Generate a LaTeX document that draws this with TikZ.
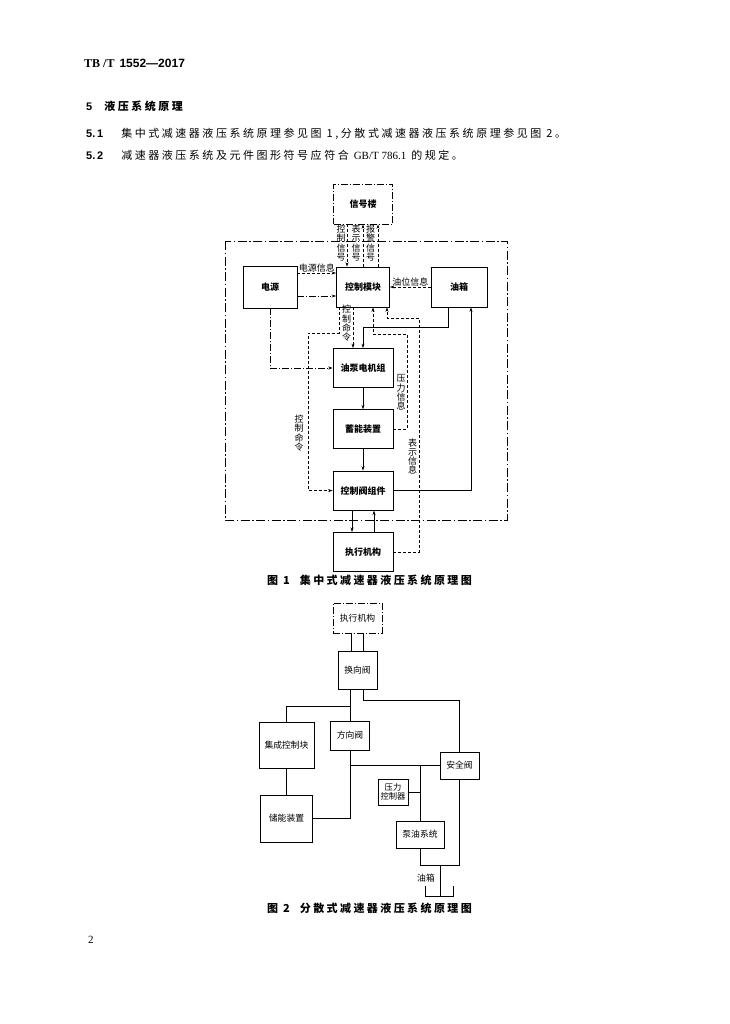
\documentclass[tikz,border=0pt]{standalone}
\usepackage{fontspec}
\setmainfont{Liberation Serif}
\setsansfont{Liberation Sans}
\newfontfamily\cjk{Noto Sans CJK SC}
\newfontfamily\cjkspaced{Noto Sans CJK SC}[LetterSpace=23]
\newfontfamily\cjkcap{Noto Sans CJK SC}[LetterSpace=22]
\usetikzlibrary{arrows.meta, positioning}

\begin{document}
\begin{tikzpicture}[x=1pt, y=-1pt,
    >={Stealth[length=4.5pt, width=3pt]},
    % Styles
    unit box/.style={draw, line width=0.8pt, inner sep=1pt, align=center, font=\cjk\bfseries\fontsize{9}{11}\selectfont},
    core box/.style={unit box, minimum width=60pt, minimum height=39pt},
    ext box/.style={unit box, dash pattern=on 7pt off 2pt on 1pt off 2pt, line width=0.7pt},
    plain box/.style={draw, line width=0.7pt, inner sep=0.5pt, align=center, font=\cjk\fontsize{8.8}{10}\selectfont},
    sig line/.style={line width=0.6pt, dash pattern=on 3pt off 2pt},
    power line/.style={line width=0.6pt, dash pattern=on 7pt off 2pt on 1pt off 2pt},
    frame line/.style={line width=0.6pt, dash pattern=on 9pt off 2.5pt on 1.5pt off 2.5pt},
    oil line/.style={line width=0.6pt},
    line label/.style={inner sep=0.5pt, font=\cjk\fontsize{9}{10}\selectfont},
    vert label/.style={inner sep=0pt, align=center, font=\cjk\fontsize{9}{9.3}\selectfont},
    caption/.style={anchor=west, inner sep=0pt, font=\cjkcap\bfseries\fontsize{11}{12}\selectfont},
    body text/.style={anchor=west, inner sep=0pt, font=\cjkspaced\fontsize{11}{13}\selectfont},
]
    \fill[white] (0,0) rectangle (729,1024);
    \useasboundingbox (0,0) rectangle (729,1024);

    % Page text
    \node[anchor=west, inner sep=0pt, font=\fontsize{12}{14}\selectfont] (std no) at (84,63) {\bfseries TB\hspace{3pt}/T\hspace{5pt}{\sffamily 1552—2017}};
    \node[anchor=west, inner sep=0pt, font=\fontsize{11}{13}\selectfont] (sec head) at (86,106) {\sffamily\bfseries 5\hspace{12pt}{\cjkspaced\bfseries 液压系统原理}};
    \node[body text] (item one) at (86,134) {{\sffamily\bfseries 5.\,1}\hspace{18pt}集中式减速器液压系统原理参见图 1,分散式减速器液压系统原理参见图 2。};
    \node[body text] (item two) at (86,155) {{\sffamily\bfseries 5.\,2}\hspace{18pt}减速器液压系统及元件图形符号应符合 {\rmfamily GB/T 786.1} 的规定。};

    % Figure 1 - boxes
    \node[ext box, minimum width=59pt, minimum height=40pt] (tower) at (363,204) {信号楼};
    \node[unit box, minimum width=54pt, minimum height=42pt] (power) at (270,287) {电源};
    \node[unit box, minimum width=53pt, minimum height=40pt] (ctrl) at (363,287) {控制模块};
    \node[unit box, minimum width=56pt, minimum height=40pt] (tank) at (459,287) {油箱};
    \node[core box] (pump) at (363,368) {油泵电机组};
    \node[core box, below=21.5pt of pump] (accu) {蓄能装置};
    \node[core box, below=21.5pt of accu] (valves) {控制阀组件};
    \node[core box, below=21.5pt of valves] (actor) {执行机构};

    % System frame
    \draw[frame line] (225,241) rectangle (507,520);

    % Signal tower lines
    \draw[sig line, ->] ([xshift=-16pt]tower.south) -- ([xshift=-16pt]ctrl.north);
    \draw[sig line, ->] (ctrl.north) -- (tower.south);
    \draw[sig line, ->] ([xshift=15pt]ctrl.north) -- ([xshift=15pt]tower.south);
    \node[vert label] (cmd sig) at (341,243) {控\\制\\信\\号};
    \node[vert label] (ind sig) at (356,243) {表\\示\\信\\号};
    \node[vert label] (alarm sig) at (370.5,243) {报\\警\\信\\号};

    % Power and level lines
    \draw[sig line, ->] ([yshift=14pt]power.east) -- ([yshift=14pt]ctrl.west) node[line label, midway, above] (power info) {电源信息};
    \draw[power line, ->] ([yshift=-9pt]power.east) -- ([yshift=-9pt]ctrl.west);
    \draw[sig line, ->] (tank.west) -- (ctrl.east) node[line label, midway, above] (level info) {油位信息};
    \draw[power line, ->] (power.south) |- (pump.west);

    % Control commands
    \draw[sig line, ->] ([xshift=-10pt]ctrl.south) -- ([xshift=-10pt]pump.north);
    \node[vert label] (cmd a) at (346.5,323.5) {控\\制\\命\\令};
    \coordinate (cmd bend) at (308,333);
    \draw[sig line, ->] ([xshift=-24pt]ctrl.south) |- (cmd bend) |- (valves.west);
    \node[vert label] (cmd b) at (299,433) {控\\制\\命\\令};

    % Feedback to control module
    \coordinate (press bend) at (407,334);
    \draw[sig line, ->] (accu.east) -| (press bend) -| ([xshift=10pt]ctrl.south);
    \node[vert label] (press info) at (401,392.5) {压\\力\\信\\息};
    \coordinate (ind bend) at (419,318);
    \draw[sig line, ->] (actor.east) -| (ind bend) -| ([xshift=24pt]ctrl.south);
    \node[vert label] (ind info) at (412.5,456.5) {表\\示\\信\\息};

    % Oil circuit
    \draw[oil line, ->] ([xshift=-11pt]tank.south) |- ([yshift=21pt]pump.north) -- (pump.north);
    \draw[oil line, ->] (pump.south) -- (accu.north);
    \draw[oil line, ->] (accu.south) -- (valves.north);
    \draw[oil line, ->] ([xshift=-11pt]valves.south) -- ([xshift=-11pt]actor.north);
    \draw[oil line, ->] ([xshift=11pt]actor.north) -- ([xshift=11pt]valves.south);
    \draw[oil line, ->] (valves.east) -| ([xshift=12pt]tank.south);

    \node[caption] (cap one) at (267,580) {图 1\hspace{10pt}集中式减速器液压系统原理图};

    % Figure 2 - boxes
    \node[plain box, dash pattern=on 7pt off 2pt on 1pt off 2pt, minimum width=49pt, minimum height=30pt] (actor2) at (357.5,618) {执行机构};
    \node[plain box, minimum width=39pt, minimum height=38pt] (switch) at (357.5,670) {换向阀};
    \node[plain box, minimum width=55pt, minimum height=46pt] (block) at (286.5,745) {集成控制块};
    \node[plain box, minimum width=39pt, minimum height=29pt] (dirv) at (350,735.5) {方向阀};
    \node[plain box, minimum width=39pt, minimum height=27pt] (safety) at (459.5,765.5) {安全阀};
    \node[plain box, minimum width=30pt, minimum height=26pt, font=\cjk\fontsize{8.3}{9.5}\selectfont] (pctrl) at (393,792) {压力\\控制器};
    \node[plain box, minimum width=52pt, minimum height=47pt] (store) at (286.5,818.5) {储能装置};
    \node[plain box, minimum width=48pt, minimum height=27pt] (pumpset) at (420,834.5) {泵油系统};

    % Figure 2 - pipes
    \draw[oil line] ([xshift=-6.5pt]actor2.south) -- ([xshift=-6.5pt]switch.north);
    \draw[oil line] ([xshift=6pt]actor2.south) -- ([xshift=6pt]switch.north);
    \draw[oil line] ([xshift=-7.5pt]switch.south) -- (dirv.north);
    \draw[oil line] ([xshift=-7.5pt,yshift=-17pt]switch.south) -| (block.north);
    \draw[oil line] ([xshift=5.5pt]switch.south) -- ([xshift=5.5pt,yshift=-11pt]switch.south) -| (safety.north);
    \draw[oil line] (block.south) -- (store.north);
    \draw[oil line] (dirv.south) |- (store.east);
    \draw[oil line] (safety.west) -- (safety.west -| dirv.south);
    \draw[oil line] (pumpset.north) -- (pumpset.north |- safety.west);
    \draw[oil line] (pctrl.east) -- (pctrl.east -| pumpset.north);
    \coordinate (drain) at (440,865);
    \coordinate (sump) at (440,896);
    \draw[oil line] (pumpset.south) |- (drain) -| (safety.south);
    \draw[oil line] (drain) -- (sump);
    \draw[oil line] ([xshift=-15pt,yshift=10pt]sump) |- ([xshift=13pt]sump) -- ([xshift=13pt,yshift=10pt]sump);
    \node[line label, font=\cjk\fontsize{8.8}{10}\selectfont] (sump label) at (426,878) {油箱};

    \node[caption] (cap two) at (267,908) {图 2\hspace{10pt}分散式减速器液压系统原理图};

    \node[anchor=west, inner sep=0pt, font=\fontsize{11}{13}\selectfont] (page no) at (88,940) {2};
\end{tikzpicture}
\end{document}
